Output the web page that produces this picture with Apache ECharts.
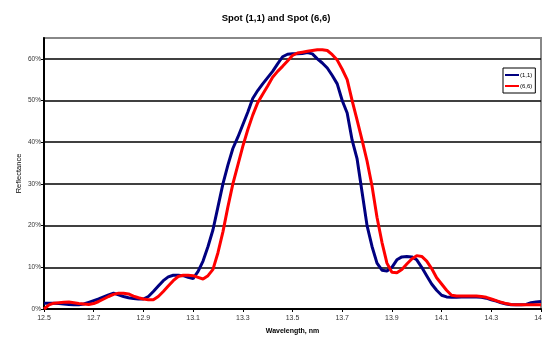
<!DOCTYPE html>
<html>
<head>
<meta charset="utf-8">
<script src="https://cdn.jsdelivr.net/npm/echarts@6/dist/echarts.min.js"></script>
<style>
  html, body { margin: 0; padding: 0; background: #fff; }
  #chart { width: 542px; height: 338px; }
</style>
</head>
<body>
<div id="chart"></div>
<script>
// wavelength grid, nm (step 0.02)
const wavelengths = [
  12.50, 12.52, 12.54, 12.56, 12.58, 12.60, 12.62, 12.64, 12.66, 12.68,
  12.70, 12.72, 12.74, 12.76, 12.78, 12.80, 12.82, 12.84, 12.86, 12.88,
  12.90, 12.92, 12.94, 12.96, 12.98, 13.00, 13.02, 13.04, 13.06, 13.08,
  13.10, 13.12, 13.14, 13.16, 13.18, 13.20, 13.22, 13.24, 13.26, 13.28,
  13.30, 13.32, 13.34, 13.36, 13.38, 13.40, 13.42, 13.44, 13.46, 13.48,
  13.50, 13.52, 13.54, 13.56, 13.58, 13.60, 13.62, 13.64, 13.66, 13.68,
  13.70, 13.72, 13.74, 13.76, 13.78, 13.80, 13.82, 13.84, 13.86, 13.88,
  13.90, 13.92, 13.94, 13.96, 13.98, 14.00, 14.02, 14.04, 14.06, 14.08,
  14.10, 14.12, 14.14, 14.16, 14.18, 14.20, 14.22, 14.24, 14.26, 14.28,
  14.30, 14.32, 14.34, 14.36, 14.38, 14.40, 14.42, 14.44, 14.46, 14.48,
  14.50
];

// reflectance, spot (1,1)
const spot11 = [
  0.014, 0.014, 0.014, 0.013, 0.012, 0.011, 0.010, 0.010, 0.012, 0.016,
  0.020, 0.024, 0.029, 0.034, 0.038, 0.034, 0.030, 0.027, 0.025, 0.024,
  0.024, 0.030, 0.042, 0.055, 0.068, 0.077, 0.081, 0.081, 0.080, 0.076,
  0.073, 0.090, 0.115, 0.150, 0.190, 0.245, 0.300, 0.345, 0.385, 0.412,
  0.442, 0.472, 0.505, 0.524, 0.540, 0.555, 0.570, 0.588, 0.605, 0.611,
  0.612, 0.612, 0.613, 0.615, 0.612, 0.600, 0.590, 0.578, 0.560, 0.540,
  0.500, 0.470, 0.405, 0.360, 0.280, 0.200, 0.150, 0.110, 0.093, 0.091,
  0.100, 0.118, 0.125, 0.126, 0.125, 0.118, 0.100, 0.080, 0.060, 0.045,
  0.033, 0.029, 0.028, 0.028, 0.029, 0.029, 0.029, 0.029, 0.028, 0.026,
  0.022, 0.019, 0.015, 0.012, 0.010, 0.010, 0.010, 0.011, 0.015, 0.017,
  0.018
];

// reflectance, spot (6,6)
const spot66 = [
  0.000, 0.010, 0.014, 0.015, 0.016, 0.017, 0.015, 0.013, 0.012, 0.011,
  0.013, 0.018, 0.024, 0.030, 0.035, 0.038, 0.038, 0.036, 0.031, 0.027,
  0.024, 0.022, 0.022, 0.030, 0.042, 0.055, 0.068, 0.078, 0.081, 0.081,
  0.080, 0.076, 0.072, 0.080, 0.095, 0.135, 0.185, 0.245, 0.300, 0.345,
  0.390, 0.430, 0.465, 0.495, 0.515, 0.535, 0.556, 0.570, 0.582, 0.595,
  0.608, 0.614, 0.616, 0.618, 0.620, 0.622, 0.622, 0.620, 0.610, 0.597,
  0.575, 0.550, 0.500, 0.453, 0.405, 0.355, 0.295, 0.220, 0.160, 0.110,
  0.088, 0.087, 0.095, 0.108, 0.120, 0.128, 0.126, 0.115, 0.097, 0.075,
  0.060, 0.045, 0.033, 0.031, 0.031, 0.031, 0.031, 0.031, 0.030, 0.028,
  0.024, 0.020, 0.016, 0.013, 0.011, 0.010, 0.010, 0.010, 0.010, 0.010,
  0.010
];

const xTicks = [12.5, 12.7, 12.9, 13.1, 13.3, 13.5, 13.7, 13.9, 14.1, 14.3, 14.5];
const yTicks = [0, 0.1, 0.2, 0.3, 0.4, 0.5, 0.6];

const chart = echarts.init(document.getElementById('chart'));

const font = 'Liberation Sans, Arial, sans-serif';

chart.setOption({
  backgroundColor: '#fff',
  animation: false,
  title: {
    text: 'Spot (1,1) and Spot (6,6)',
    left: 271,
    textAlign: 'center',
    top: 8,
    textStyle: { fontFamily: font, fontSize: 9.5, fontWeight: 'bold', color: '#000' }
  },
  legend: {
    orient: 'vertical',
    left: 503,
    top: 68,
    width: 31,
    padding: [4, 3, 4, 2],
    itemGap: 5,
    itemWidth: 14,
    itemHeight: 2,
    icon: 'rect',
    borderColor: '#000',
    borderWidth: 1,
    textStyle: { fontFamily: font, fontSize: 6, color: '#000', padding: [0, 0, 0, -4] },
    data: ['(1,1)', '(6,6)']
  },
  grid: {
    left: 44,
    right: 1,
    top: 38,
    bottom: 29,
    outerBoundsMode: 'none',
    containLabel: false,
    show: true,
    borderColor: '#888',
    borderWidth: 2
  },
  xAxis: {
    type: 'value',
    min: xTicks[0],
    max: xTicks[xTicks.length - 1],
    interval: 0.2,
    name: 'Wavelength, nm',
    nameLocation: 'middle',
    nameGap: 19,
    nameMoveOverlap: false,
    nameTextStyle: { fontFamily: font, fontSize: 7, fontWeight: 'bold', color: '#000' },
    axisLine: { lineStyle: { color: '#000', width: 2 } },
    axisTick: { length: 3, lineStyle: { color: '#000' } },
    axisLabel: {
      fontFamily: font, fontSize: 7, color: '#333', margin: 6,
      hideOverlap: false,
      formatter: v => v.toFixed(1)
    },
    splitLine: { show: false }
  },
  yAxis: {
    type: 'value',
    min: 0,
    max: 0.65,
    interval: 0.1,
    name: 'Reflectance',
    nameLocation: 'middle',
    nameGap: 21,
    nameMoveOverlap: false,
    nameTextStyle: { fontFamily: font, fontSize: 7.5, color: '#000' },
    axisLine: { show: true, lineStyle: { color: '#000', width: 2 } },
    axisTick: { show: true, length: 3, lineStyle: { color: '#000' } },
    axisLabel: {
      fontFamily: font, fontSize: 6.5, color: '#333', margin: 3,
      showMaxLabel: false,
      formatter: v => (yTicks.some(t => Math.abs(t - v) < 1e-6) ? Math.round(v * 100) + '%' : '')
    },
    splitLine: {
      lineStyle: {
        color: ['#000', '#000', '#000', '#000', '#000', '#000', '#000', '#888'],
        width: 1.5
      }
    }
  },
  series: [
    {
      name: '(1,1)',
      type: 'line',
      data: wavelengths.map((w, i) => [w, spot11[i]]),
      showSymbol: false,
      lineStyle: { color: '#000080', width: 3 },
      itemStyle: { color: '#000080' }
    },
    {
      name: '(6,6)',
      type: 'line',
      data: wavelengths.map((w, i) => [w, spot66[i]]),
      showSymbol: false,
      lineStyle: { color: '#ff0000', width: 3 },
      itemStyle: { color: '#ff0000' }
    }
  ]
});
</script>
</body>
</html>
